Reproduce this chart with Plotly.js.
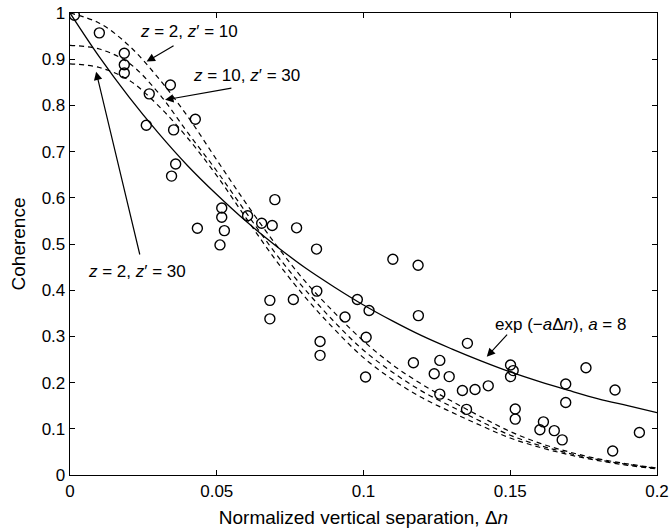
<!DOCTYPE html>
<html>
<head>
<meta charset="utf-8">
<script src="https://cdn.plot.ly/plotly-3.0.1.min.js"></script>
<style>html,body{margin:0;padding:0;background:#fff;}#chart{width:669px;height:531px;}</style>
</head>
<body>
<div id="chart"></div>
<script>
// Measured data points (normalized vertical separation, coherence)
var obsX = [0.0015,0.010,0.0185,0.0185,0.0185,0.027,0.0342,0.026,0.0353,0.0427,0.036,0.0346,
  0.0698,0.0517,0.0517,0.0605,0.0653,0.0689,0.0772,0.0434,0.0526,0.0511,0.084,0.110,0.1186,
  0.0681,0.0761,0.0841,0.0681,0.0979,0.1019,0.0937,0.1187,0.0852,0.0852,0.1009,0.1007,
  0.1354,0.117,0.126,0.1241,0.1292,0.126,0.1337,0.1380,0.1425,0.1351,0.1501,0.151,0.1501,
  0.1517,0.1517,0.1758,0.1689,0.1857,0.1689,0.1613,0.1601,0.165,0.1677,0.194,0.1849];
var obsY = [0.995,0.957,0.913,0.888,0.870,0.825,0.844,0.757,0.747,0.770,0.673,0.647,
  0.596,0.578,0.558,0.561,0.545,0.540,0.535,0.534,0.529,0.498,0.489,0.467,0.454,
  0.378,0.380,0.398,0.338,0.380,0.356,0.342,0.345,0.289,0.259,0.298,0.212,
  0.285,0.243,0.248,0.219,0.213,0.175,0.183,0.185,0.193,0.142,0.238,0.226,0.213,
  0.143,0.121,0.232,0.197,0.184,0.157,0.115,0.098,0.096,0.076,0.092,0.052];

// Curves
var curveX = [0,0.01,0.02,0.03,0.04,0.05,0.06,0.07,0.08,0.09,0.10,0.11,0.12,0.13,0.14,0.15,0.16,0.17,0.18,0.19,0.20];
var expFit = [1.000,0.905,0.819,0.741,0.670,0.607,0.549,0.497,0.449,0.407,0.368,0.333,0.301,0.273,0.247,0.223,0.202,0.183,0.165,0.150,0.135];
var z2z10  = [1.000,0.978,0.930,0.860,0.777,0.682,0.588,0.500,0.420,0.352,0.290,0.238,0.196,0.160,0.126,0.094,0.069,0.050,0.035,0.024,0.015];
var z10z30 = [0.930,0.922,0.892,0.828,0.742,0.658,0.568,0.480,0.402,0.332,0.270,0.222,0.181,0.148,0.116,0.086,0.064,0.047,0.033,0.023,0.014];
var z2z30  = [0.890,0.882,0.855,0.800,0.730,0.648,0.556,0.466,0.386,0.316,0.254,0.206,0.167,0.136,0.107,0.080,0.060,0.044,0.031,0.021,0.013];

var xTicks = [0,0.05,0.1,0.15,0.2];
var xTickText = ['0','0.05','0.1','0.15','0.2'];
var yTicks = [0,0.1,0.2,0.3,0.4,0.5,0.6,0.7,0.8,0.9,1];
var yTickText = ['0','0.1','0.2','0.3','0.4','0.5','0.6','0.7','0.8','0.9','1'];

var dashStyle = {color:'#000', width:1.2, dash:'5px,4px', shape:'spline'};
var traces = [
  {x:curveX, y:expFit, mode:'lines', line:{color:'#000', width:1.3, shape:'spline'}, hoverinfo:'skip'},
  {x:curveX, y:z2z10, mode:'lines', line:dashStyle, hoverinfo:'skip'},
  {x:curveX, y:z10z30, mode:'lines', line:dashStyle, hoverinfo:'skip'},
  {x:curveX, y:z2z30, mode:'lines', line:dashStyle, hoverinfo:'skip'},
  {x:obsX, y:obsY, mode:'markers', marker:{symbol:'circle-open', size:10, color:'#000', line:{width:1.4, color:'#000'}}}
];

var fam = '"Liberation Sans", Arial, sans-serif';
var tickFont = {family:fam, size:17, color:'#000'};
var annFont = {family:fam, size:17, color:'#000'};
var titleFont = {family:fam, size:19, color:'#000'};
function txt(x, y, t){ return {x:x, y:y, xref:'x', yref:'y', text:t, showarrow:false, font:annFont, xanchor:'center', yanchor:'middle'}; }
function arr(x, y, ax, ay){ return {x:x, y:y, xref:'x', yref:'y', ax:ax, ay:ay, axref:'x', ayref:'y', text:'', showarrow:true, arrowhead:2, arrowsize:1.4, arrowwidth:1.2, arrowcolor:'#000', standoff:0, startstandoff:0}; }

var layout = {
  width:669, height:531,
  margin:{l:70, r:12, t:13, b:56},
  paper_bgcolor:'#fff', plot_bgcolor:'#fff',
  showlegend:false,
  font:tickFont,
  xaxis:{range:[0,0.2], tickvals:xTicks, ticktext:xTickText, ticks:'inside', ticklen:5, tickcolor:'#000',
    showline:true, linecolor:'#000', linewidth:1.3, mirror:'ticks', showgrid:false, zeroline:false,
    tickfont:tickFont, title:{text:'Normalized vertical separation, Δ<i>n</i>', font:titleFont, standoff:11}},
  yaxis:{range:[0,1], tickvals:yTicks, ticktext:yTickText, ticks:'inside', ticklen:5, tickcolor:'#000',
    showline:true, linecolor:'#000', linewidth:1.3, mirror:'ticks', showgrid:false, zeroline:false,
    tickfont:tickFont, title:{text:'Coherence', font:titleFont, standoff:11}},
  annotations:[
    txt(0.0405, 0.9595, '<i>z</i> = 2, <i>z</i>′ = 10'),
    arr(0.0261, 0.895, 0.0358, 0.931),
    txt(0.060, 0.864, '<i>z</i> = 10, <i>z</i>′ = 30'),
    arr(0.0324, 0.812, 0.0555, 0.838),
    txt(0.0227, 0.4397, '<i>z</i> = 2, <i>z</i>′ = 30'),
    arr(0.0089, 0.873, 0.0239, 0.474),
    txt(0.167, 0.325, 'exp (−<i>a</i>Δ<i>n</i>), <i>a</i> = 8'),
    arr(0.142, 0.256, 0.1494, 0.307)
  ]
};
Plotly.newPlot('chart', traces, layout, {displayModeBar:false, staticPlot:true});
</script>
</body>
</html>
